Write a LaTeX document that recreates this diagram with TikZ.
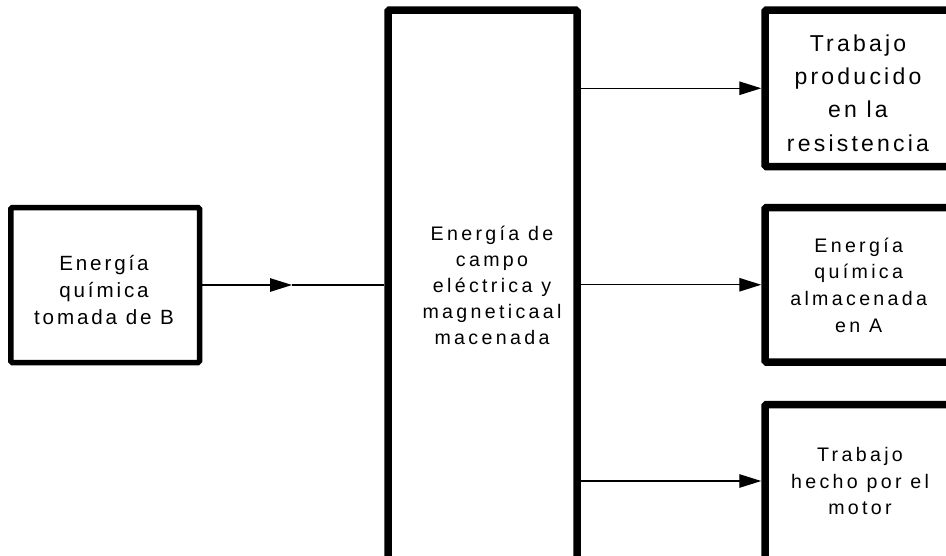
\documentclass[tikz,border=0pt]{standalone}
\usepackage{fontspec}
\newfontfamily\blkfont{Liberation Sans}[LetterSpace=17]
\newfontfamily\bigfont{Liberation Sans}[LetterSpace=14]
\usetikzlibrary{arrows.meta}
\begin{document}
\begin{tikzpicture}[x=1pt, y=-1pt,
  blk/.style={draw, rectangle, line width=7.5pt, rounded corners=1.5pt, inner sep=0pt},
  lbl/.style={align=center, inner sep=0pt, font=\blkfont\fontsize{19.6}{26.7}\selectfont},
  flow/.style={line width=1.2pt, -{Triangle[length=22pt, width=13.5pt]}}]
\path[use as bounding box, clip] (0,0) rectangle (946,555);
% boxes
\node[blk, line width=5.5pt, minimum width=188.7pt, minimum height=155pt] (lb) at (105.2,285){};
\node[blk, minimum width=189pt, minimum height=590pt] (cb) at (482.5,305){};
\node[blk, minimum width=235pt, minimum height=156.5pt] (rt) at (882.5,88.25){};
\node[blk, minimum width=235pt, minimum height=154.5pt] (rm) at (882.5,284.75){};
\node[blk, minimum width=235pt, minimum height=215pt] (rb) at (882.5,512){};
% texts
\node[lbl, font=\bigfont\fontsize{20.6}{27}\selectfont] (lbt) at (104,290){Energía\\química\\tomada de B};
\node[lbl, font=\blkfont\fontsize{19.6}{26}\selectfont] (cbt) at (492,285){Energía de\\campo\\eléctrica y\\magneticaal\\macenada};
\node[lbl, font=\bigfont\fontsize{23}{33.3}\selectfont] (rtt) at (858,93){Trabajo\\producido\\en la\\resistencia};
\node[lbl] (rmt) at (858.7,285){Energía\\química\\almacenada\\en A};
\node[lbl] (rbt) at (860,481){Trabajo\\hecho por el\\motor};
% arrows
\coordinate (lm) at (292,285);
\draw[line width=1.2pt] (lm) -- (cb.west |- lm);
\draw[flow] (lb.east) -- (lm);
\draw[flow] (cb.east |- rt.west) -- (rt.west);
\draw[flow] (cb.east |- rm.west) -- (rm.west);
\draw[flow] (cb.east |- rbt) -- (rb.west |- rbt);
\end{tikzpicture}
\end{document}
